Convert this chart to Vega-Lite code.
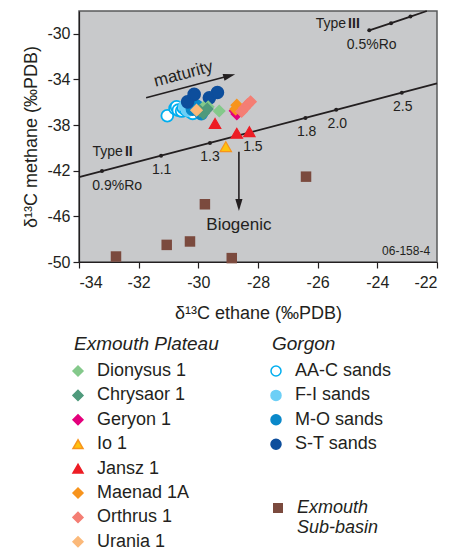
{
  "$schema": "https://vega.github.io/schema/vega-lite/v6.json",
  "width": 358,
  "height": 251,
  "autosize": {"type": "none"},
  "padding": {"left": 79, "top": 11, "right": 26, "bottom": 289},
  "background": "white",
  "config": {
    "font": "Liberation Sans",
    "view": {"fill": "#c8c9cb", "stroke": "#58595b", "strokeWidth": 1.5},
    "axis": {
      "grid": false,
      "domainColor": "#231f20",
      "domainWidth": 1.2,
      "tickColor": "#231f20",
      "tickWidth": 1.2,
      "tickSize": 6,
      "labelFont": "Liberation Sans",
      "labelFontSize": 16,
      "labelColor": "#231f20",
      "titleFont": "Liberation Sans",
      "titleFontSize": 18,
      "titleFontWeight": "normal",
      "titleColor": "#231f20"
    },
    "legend": {
      "padding": 0,
      "labelFont": "Liberation Sans",
      "labelFontSize": 18,
      "labelColor": "#231f20",
      "titleFont": "Liberation Sans",
      "titleFontSize": 19,
      "titleFontWeight": "normal",
      "titleFontStyle": "italic",
      "titleColor": "#231f20",
      "symbolSize": 100,
      "symbolStrokeWidth": 1.5,
      "symbolOffset": -5,
      "labelOffset": 10,
      "rowPadding": 6.4,
      "titlePadding": 8
    },
    "text": {"font": "Liberation Sans", "color": "#231f20"}
  },
  "datasets": {
    "curves": [
      {"curve": "Type II", "x": -34, "y": -42.56, "ro": null},
      {"curve": "Type II", "x": -33.23, "y": -42.03, "ro": "0.9"},
      {"curve": "Type II", "x": -31.25, "y": -40.68, "ro": "1.1"},
      {"curve": "Type II", "x": -29.61, "y": -39.56, "ro": "1.3"},
      {"curve": "Type II", "x": -28.3, "y": -38.66, "ro": "1.5"},
      {"curve": "Type II", "x": -26.41, "y": -37.37, "ro": "1.8"},
      {"curve": "Type II", "x": -25.38, "y": -36.66, "ro": "2.0"},
      {"curve": "Type II", "x": -23.18, "y": -35.16, "ro": "2.5"},
      {"curve": "Type II", "x": -22, "y": -34.35, "ro": null},
      {"curve": "Type III", "x": -24.27, "y": -29.69, "ro": "0.5"},
      {"curve": "Type III", "x": -23.54, "y": -29.07, "ro": "0.6"},
      {"curve": "Type III", "x": -22.89, "y": -28.49, "ro": "0.7"},
      {"curve": "Type III", "x": -22.34, "y": -28.0, "ro": null}
    ],
    "gorgon": [
      {"sand": "AA-C sands", "x": -31.04, "y": -37.18},
      {"sand": "AA-C sands", "x": -30.78, "y": -36.54},
      {"sand": "AA-C sands", "x": -30.73, "y": -36.4},
      {"sand": "AA-C sands", "x": -30.67, "y": -36.69},
      {"sand": "AA-C sands", "x": -30.56, "y": -36.77},
      {"sand": "AA-C sands", "x": -30.5, "y": -36.5},
      {"sand": "AA-C sands", "x": -30.41, "y": -36.69},
      {"sand": "AA-C sands", "x": -30.28, "y": -36.83},
      {"sand": "AA-C sands", "x": -30.19, "y": -36.97},
      {"sand": "F-I sands", "x": -30.45, "y": -36.3},
      {"sand": "F-I sands", "x": -30.3, "y": -36.45},
      {"sand": "F-I sands", "x": -30.35, "y": -36.7},
      {"sand": "F-I sands", "x": -30.1, "y": -36.55},
      {"sand": "M-O sands", "x": -30.15, "y": -36.25},
      {"sand": "M-O sands", "x": -30.05, "y": -36.35},
      {"sand": "M-O sands", "x": -30.2, "y": -36.6},
      {"sand": "M-O sands", "x": -30.0, "y": -36.7},
      {"sand": "M-O sands", "x": -29.9, "y": -37.0},
      {"sand": "S-T sands", "x": -30.36, "y": -35.96},
      {"sand": "S-T sands", "x": -30.14, "y": -35.31},
      {"sand": "S-T sands", "x": -29.63, "y": -35.61},
      {"sand": "S-T sands", "x": -29.36, "y": -35.14}
    ],
    "plateau": [
      {"well": "Dionysus 1", "x": -29.3, "y": -36.77},
      {"well": "Dionysus 1", "x": -29.67, "y": -36.4},
      {"well": "Dionysus 1", "x": -29.83, "y": -36.45},
      {"well": "Chrysaor 1", "x": -29.83, "y": -36.97},
      {"well": "Chrysaor 1", "x": -29.95, "y": -36.75},
      {"well": "Chrysaor 1", "x": -29.7, "y": -36.6},
      {"well": "Urania 1", "x": -30.06, "y": -36.69},
      {"well": "Geryon 1", "x": -28.71, "y": -37.03},
      {"well": "Geryon 1", "x": -28.77, "y": -36.75},
      {"well": "Maenad 1A", "x": -28.71, "y": -36.25},
      {"well": "Maenad 1A", "x": -28.75, "y": -36.6},
      {"well": "Orthrus 1", "x": -28.55, "y": -36.8},
      {"well": "Orthrus 1", "x": -28.45, "y": -36.5},
      {"well": "Orthrus 1", "x": -28.35, "y": -36.2},
      {"well": "Orthrus 1", "x": -28.25, "y": -35.95},
      {"well": "Io 1", "x": -29.08, "y": -39.89},
      {"well": "Jansz 1", "x": -29.44, "y": -37.85},
      {"well": "Jansz 1", "x": -28.71, "y": -38.72},
      {"well": "Jansz 1", "x": -28.29, "y": -38.58}
    ],
    "subbasin": [
      {"basin": "Exmouth Sub-basin", "x": -32.76, "y": -49.52},
      {"basin": "Exmouth Sub-basin", "x": -31.06, "y": -48.5},
      {"basin": "Exmouth Sub-basin", "x": -30.28, "y": -48.2},
      {"basin": "Exmouth Sub-basin", "x": -29.78, "y": -44.94},
      {"basin": "Exmouth Sub-basin", "x": -28.88, "y": -49.66},
      {"basin": "Exmouth Sub-basin", "x": -26.39, "y": -42.52}
    ],
    "labels": [
      {"text": "0.9%Ro", "x": -32.72, "y": -43.33},
      {"text": "1.1", "x": -31.23, "y": -41.93},
      {"text": "1.3", "x": -29.61, "y": -40.82},
      {"text": "1.5", "x": -28.17, "y": -39.92},
      {"text": "1.8", "x": -26.37, "y": -38.58},
      {"text": "2.0", "x": -25.34, "y": -37.91},
      {"text": "2.5", "x": -23.15, "y": -36.4},
      {"text": "0.5%Ro", "x": -24.19, "y": -30.94}
    ],
    "typeWord": [
      {"text": "Type", "x": -32.53, "y": -40.39},
      {"text": "Type", "x": -25.05, "y": -29.16}
    ],
    "typeNumeral": [
      {"text": "II", "x": -32.46, "y": -40.39},
      {"text": "III", "x": -24.98, "y": -29.16}
    ],
    "arrows": [
      {"arrow": "maturity", "x": -31.75, "y": -35.61, "x2": -28.96, "y2": -33.68},
      {"arrow": "biogenic", "x": -28.64, "y": -40.33, "x2": -28.64, "y2": -45.0}
    ]
  },
  "layer": [
    {
      "data": {"name": "curves"},
      "mark": {"type": "line", "color": "#231f20", "strokeWidth": 1.8},
      "encoding": {
        "x": {
          "field": "x", "type": "quantitative",
          "scale": {"domain": [-34, -22], "nice": false, "zero": false},
          "axis": {
            "title": "δ¹³C ethane (‰PDB)",
            "values": [-34, -33, -32, -31, -30, -29, -28, -27, -26, -25, -24, -23, -22],
            "labelExpr": "datum.value % 2 == 0 ? '' + datum.value : ''",
            "labelPadding": 6,
            "titlePadding": 14
          }
        },
        "y": {
          "field": "y", "type": "quantitative",
          "scale": {"domain": [-50, -28], "nice": false, "zero": false},
          "axis": {
            "title": "δ¹³C methane (‰PDB)",
            "values": [-50, -48, -46, -44, -42, -40, -38, -36, -34, -32, -30, -28],
            "labelExpr": "datum.value % 4 == -2 ? '' + datum.value : ''",
            "labelPadding": 3,
            "titlePadding": 6
          }
        },
        "detail": {"field": "curve"}
      }
    },
    {
      "data": {"name": "curves"},
      "transform": [{"filter": "datum.ro != null"}],
      "mark": {"type": "point", "filled": true, "color": "#231f20", "size": 16, "opacity": 1},
      "encoding": {
        "x": {"field": "x", "type": "quantitative"},
        "y": {"field": "y", "type": "quantitative"}
      }
    },
    {
      "data": {"name": "arrows"},
      "mark": {"type": "rule", "color": "#231f20", "strokeWidth": 1.6},
      "encoding": {
        "x": {"field": "x", "type": "quantitative"},
        "y": {"field": "y", "type": "quantitative"},
        "x2": {"field": "x2"},
        "y2": {"field": "y2"}
      }
    },
    {
      "data": {"name": "arrows"},
      "transform": [{"filter": "datum.arrow == 'maturity'"}],
      "mark": {"type": "point", "shape": "M1,0L-1,-0.6L-1,0.6Z", "filled": true, "color": "#231f20", "size": 144, "angle": -15, "opacity": 1},
      "encoding": {
        "x": {"field": "x2", "type": "quantitative"},
        "y": {"field": "y2", "type": "quantitative"}
      }
    },
    {
      "data": {"name": "arrows"},
      "transform": [{"filter": "datum.arrow == 'biogenic'"}],
      "mark": {"type": "point", "shape": "M1,0L-1,-0.6L-1,0.6Z", "filled": true, "color": "#231f20", "size": 144, "angle": 90, "opacity": 1},
      "encoding": {
        "x": {"field": "x2", "type": "quantitative"},
        "y": {"field": "y2", "type": "quantitative"}
      }
    },
    {
      "data": {"name": "gorgon"},
      "mark": {"type": "point", "filled": true, "size": 140, "strokeWidth": 1.8, "opacity": 1},
      "encoding": {
        "x": {"field": "x", "type": "quantitative"},
        "y": {"field": "y", "type": "quantitative"},
        "fill": {
          "field": "sand", "type": "nominal",
          "scale": {"domain": ["AA-C sands", "F-I sands", "M-O sands", "S-T sands"], "range": ["#ffffff", "#6dcff6", "#0a88c9", "#0d4e9c"]},
          "legend": {"title": "Gorgon", "orient": "none", "legendX": 193, "legendY": 324}
        },
        "stroke": {
          "field": "sand", "type": "nominal",
          "scale": {"domain": ["AA-C sands", "F-I sands", "M-O sands", "S-T sands"], "range": ["#00aeef", "#6dcff6", "#0a88c9", "#0d4e9c"]},
          "legend": {"title": "Gorgon", "orient": "none", "legendX": 193, "legendY": 324}
        },
        "shape": {
          "field": "sand", "type": "nominal",
          "scale": {"domain": ["AA-C sands", "F-I sands", "M-O sands", "S-T sands"], "range": ["circle", "circle", "circle", "circle"]},
          "legend": {"title": "Gorgon", "orient": "none", "legendX": 193, "legendY": 324}
        }
      }
    },
    {
      "data": {"name": "plateau"},
      "mark": {"type": "point", "filled": true, "size": 130, "strokeWidth": 1.2, "opacity": 1},
      "encoding": {
        "x": {"field": "x", "type": "quantitative"},
        "y": {"field": "y", "type": "quantitative"},
        "fill": {
          "field": "well", "type": "nominal",
          "scale": {"domain": ["Dionysus 1", "Chrysaor 1", "Geryon 1", "Io 1", "Jansz 1", "Maenad 1A", "Orthrus 1", "Urania 1"], "range": ["#84c98b", "#4f9a7c", "#e4007c", "#ffc20e", "#ed1c24", "#f7941d", "#f47e74", "#fbb97a"]},
          "legend": {"title": "Exmouth Plateau", "orient": "none", "legendX": -5, "legendY": 324}
        },
        "stroke": {
          "field": "well", "type": "nominal",
          "scale": {"domain": ["Dionysus 1", "Chrysaor 1", "Geryon 1", "Io 1", "Jansz 1", "Maenad 1A", "Orthrus 1", "Urania 1"], "range": ["#84c98b", "#4f9a7c", "#e4007c", "#f7941d", "#ed1c24", "#f7941d", "#f47e74", "#fbb97a"]},
          "legend": {"title": "Exmouth Plateau", "orient": "none", "legendX": -5, "legendY": 324}
        },
        "shape": {
          "field": "well", "type": "nominal",
          "scale": {"domain": ["Dionysus 1", "Chrysaor 1", "Geryon 1", "Io 1", "Jansz 1", "Maenad 1A", "Orthrus 1", "Urania 1"], "range": ["diamond", "diamond", "diamond", "triangle-up", "triangle-up", "diamond", "diamond", "diamond"]},
          "legend": {"title": "Exmouth Plateau", "orient": "none", "legendX": -5, "legendY": 324}
        }
      }
    },
    {
      "data": {"name": "subbasin"},
      "mark": {"type": "point", "filled": true, "size": 110, "strokeWidth": 0, "opacity": 1},
      "encoding": {
        "x": {"field": "x", "type": "quantitative"},
        "y": {"field": "y", "type": "quantitative"},
        "fill": {
          "field": "basin", "type": "nominal",
          "scale": {"domain": ["Exmouth Sub-basin"], "range": ["#7b4a3e"]},
          "legend": {
            "title": null, "orient": "none", "legendX": 195, "legendY": 488,
            "labelFontStyle": "italic", "labelExpr": "['Exmouth', 'Sub-basin']",
            "encode": {"labels": {"update": {"dy": {"value": 10}, "lineHeight": {"value": 20}}}}
          }
        },
        "shape": {
          "field": "basin", "type": "nominal",
          "scale": {"domain": ["Exmouth Sub-basin"], "range": ["square"]},
          "legend": {
            "title": null, "orient": "none", "legendX": 195, "legendY": 488,
            "labelFontStyle": "italic", "labelExpr": "['Exmouth', 'Sub-basin']",
            "encode": {"labels": {"update": {"dy": {"value": 10}, "lineHeight": {"value": 20}}}}
          }
        }
      }
    },
    {
      "data": {"name": "labels"},
      "mark": {"type": "text", "fontSize": 14, "align": "center", "baseline": "middle"},
      "encoding": {
        "x": {"field": "x", "type": "quantitative"},
        "y": {"field": "y", "type": "quantitative"},
        "text": {"field": "text"}
      }
    },
    {
      "data": {"name": "typeWord"},
      "mark": {"type": "text", "fontSize": 14, "align": "right", "baseline": "middle"},
      "encoding": {
        "x": {"field": "x", "type": "quantitative"},
        "y": {"field": "y", "type": "quantitative"},
        "text": {"field": "text"}
      }
    },
    {
      "data": {"name": "typeNumeral"},
      "mark": {"type": "text", "fontSize": 14, "fontWeight": "bold", "align": "left", "baseline": "middle"},
      "encoding": {
        "x": {"field": "x", "type": "quantitative"},
        "y": {"field": "y", "type": "quantitative"},
        "text": {"field": "text"}
      }
    },
    {
      "data": {"values": [{"text": "maturity", "x": -30.5, "y": -33.53}]},
      "mark": {"type": "text", "fontSize": 17, "align": "center", "baseline": "middle", "angle": -15},
      "encoding": {
        "x": {"field": "x", "type": "quantitative"},
        "y": {"field": "y", "type": "quantitative"},
        "text": {"field": "text"}
      }
    },
    {
      "data": {"values": [{"text": "Biogenic", "x": -28.64, "y": -46.75}]},
      "mark": {"type": "text", "fontSize": 17, "align": "center", "baseline": "middle"},
      "encoding": {
        "x": {"field": "x", "type": "quantitative"},
        "y": {"field": "y", "type": "quantitative"},
        "text": {"field": "text"}
      }
    },
    {
      "data": {"values": [{"text": "06-158-4", "x": -22.23, "y": -49.0}]},
      "mark": {"type": "text", "fontSize": 12, "align": "right", "baseline": "middle"},
      "encoding": {
        "x": {"field": "x", "type": "quantitative"},
        "y": {"field": "y", "type": "quantitative"},
        "text": {"field": "text"}
      }
    }
  ],
  "resolve": {"scale": {"fill": "independent", "stroke": "independent", "shape": "independent"}}
}
